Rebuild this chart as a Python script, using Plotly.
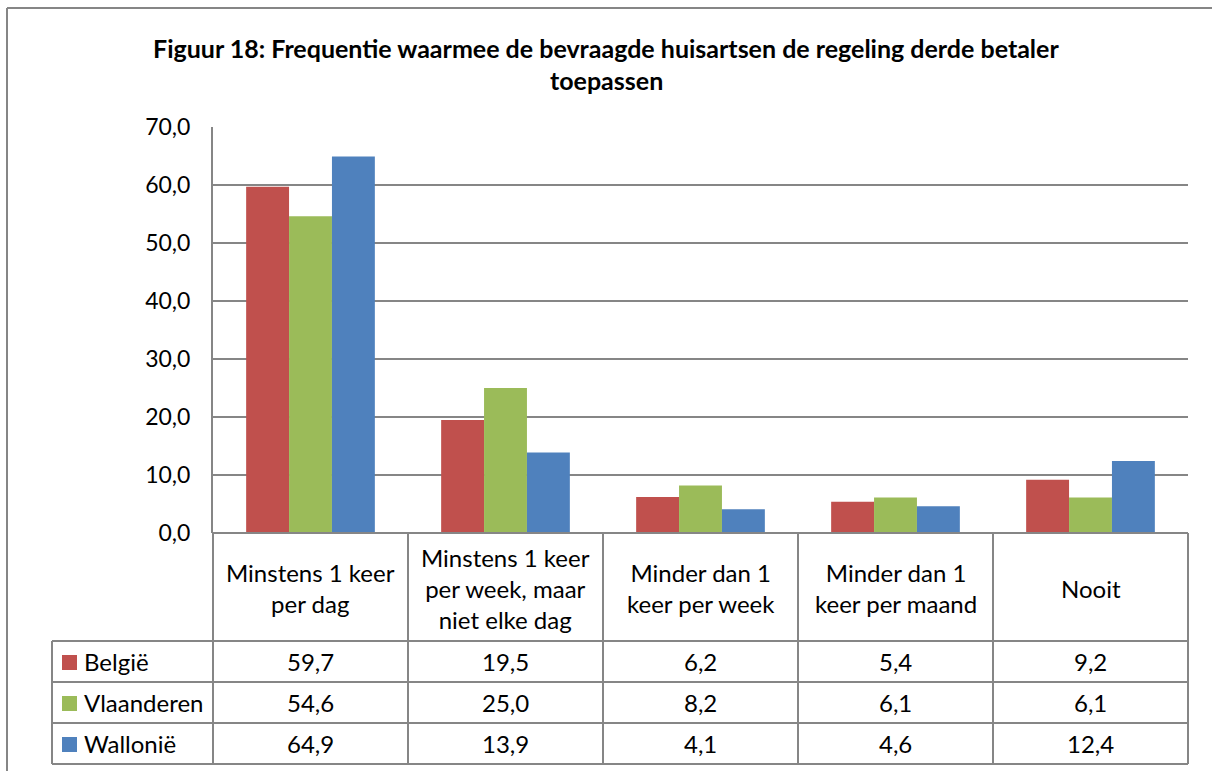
import plotly.graph_objects as go

categories = ["Minstens 1 keer<br>per dag",
              "Minstens 1 keer<br>per week, maar<br>niet elke dag",
              "Minder dan 1<br>keer per week",
              "Minder dan 1<br>keer per maand",
              "Nooit"]
series_names = ["België", "Vlaanderen", "Wallonië"]
belgie = [59.7, 19.5, 6.2, 5.4, 9.2]
vlaanderen = [54.6, 25.0, 8.2, 6.1, 6.1]
wallonie = [64.9, 13.9, 4.1, 4.6, 12.4]
colors = ["#C0504D", "#9BBB59", "#4F81BD"]
y_ticks = [0, 10, 20, 30, 40, 50, 60, 70]
title_lines = ["Figuur 18: Frequentie waarmee de bevraagde huisartsen de regeling derde betaler",
               "toepassen"]

W, H = 1212, 771
FONT = "Lato"
GRID = "#868686"

def px(x):
    return x / W

def py(y):
    return 1 - y / H

PL, PR, PT, PB = 213, 1188, 127, 533
LEG_L = 52
HDR_B = 641
ROWS = [641, 682, 723, 764]

series_vals = [belgie, vlaanderen, wallonie]
x_idx = list(range(len(categories)))

fig = go.Figure()
for name, vals, col in zip(series_names, series_vals, colors):
    fig.add_trace(go.Bar(x=x_idx, y=vals, name=name, marker_color=col,
                         marker_line_width=0, showlegend=False))

shapes = []
annotations = []
line = dict(color=GRID, width=2)

# outer frame (top and left edges)
shapes.append(dict(type="line", xref="paper", yref="paper", x0=px(7), x1=1.0, y0=py(8), y1=py(8), line=line))
shapes.append(dict(type="line", xref="paper", yref="paper", x0=px(7), x1=px(7), y0=py(8), y1=0, line=line))

ncat = len(categories)
cw = (PR - PL) / ncat
for i in range(ncat + 1):
    xx = PL + i * cw
    shapes.append(dict(type="line", xref="paper", yref="paper", x0=px(xx), x1=px(xx),
                       y0=py(PB), y1=py(ROWS[-1]), line=line))
shapes.append(dict(type="line", xref="paper", yref="paper", x0=px(LEG_L), x1=px(LEG_L),
                   y0=py(ROWS[0]), y1=py(ROWS[-1]), line=line))
shapes.append(dict(type="line", xref="paper", yref="paper", x0=px(PL), x1=px(PR),
                   y0=py(PB), y1=py(PB), line=line))
for r in ROWS:
    shapes.append(dict(type="line", xref="paper", yref="paper", x0=px(LEG_L), x1=px(PR),
                       y0=py(r), y1=py(r), line=line))

hdr_c = (PB + HDR_B) / 2
for i, cat in enumerate(categories):
    annotations.append(dict(x=px(PL + (i + 0.5) * cw), y=py(hdr_c + 1), xref="paper", yref="paper",
                            text=cat, showarrow=False, xanchor="center", yanchor="middle",
                            font=dict(family=FONT, size=24, color="#000000")))

for j, (name, vals, col) in enumerate(zip(series_names, series_vals, colors)):
    rc = (ROWS[j] + ROWS[j + 1]) / 2
    shapes.append(dict(type="rect", xref="paper", yref="paper", x0=px(62), x1=px(77),
                       y0=py(rc - 7.5 + 1), y1=py(rc + 7.5 + 1), fillcolor=col, line=dict(width=0)))
    annotations.append(dict(x=px(82), y=py(rc), xref="paper", yref="paper", text=name,
                            showarrow=False, xanchor="left", yanchor="middle",
                            font=dict(family=FONT, size=24, color="#000000")))
    for i, v in enumerate(vals):
        annotations.append(dict(x=px(PL + (i + 0.5) * cw), y=py(rc), xref="paper", yref="paper",
                                text=f"{v:.1f}".replace(".", ","), showarrow=False,
                                xanchor="center", yanchor="middle",
                                font=dict(family=FONT, size=24, color="#000000")))

for t, yy in zip(title_lines, [48, 80]):
    annotations.append(dict(x=px(606), y=py(yy), xref="paper", yref="paper", text=f"<b>{t}</b>",
                            showarrow=False, xanchor="center", yanchor="middle",
                            font=dict(family=FONT, size=25, color="#000000")))

fig.update_layout(
    width=W, height=H,
    margin=dict(l=0, r=0, t=0, b=0, pad=0, autoexpand=False),
    paper_bgcolor="white", plot_bgcolor="white",
    separators=", ",
    bargap=0.34, bargroupgap=0,
    barmode="group",
    shapes=shapes, annotations=annotations,
    xaxis=dict(domain=[px(PL), px(PR)], range=[-0.5, ncat - 0.5], showticklabels=False,
               showgrid=False, zeroline=False, showline=False, fixedrange=True, automargin=False),
    yaxis=dict(domain=[py(PB), py(PT)], range=[0, 70], tickvals=y_ticks, tickformat=".1f",
               showgrid=True, gridcolor=GRID, gridwidth=2, zeroline=False,
               showline=True, linecolor=GRID, linewidth=2, ticks="",
               ticklabelstandoff=16, automargin=False,
               tickfont=dict(family=FONT, size=23, color="#000000")),
    font=dict(family=FONT),
)

fig.write_html("out.html", config={"displayModeBar": False},
               post_script="document.body.style.margin='0';document.body.style.overflow='hidden';")
